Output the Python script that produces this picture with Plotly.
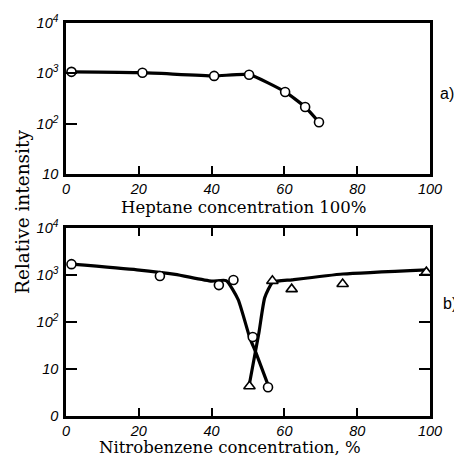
import plotly.graph_objects as go

# Panel a): heptane series (open circles)
hep_x = [1.5, 21, 40.7, 50.3, 60.2, 65.7, 69.5]
hep_y = [1070, 1030, 890, 940, 427, 214, 107]

# Panel b): nitrobenzene, two series
nb_circ_x = [1.5, 25.8, 42, 46, 51.3, 55.5]
nb_circ_y = [1700, 950, 610, 780, 48, 4.1]
nb_tri_x = [50.4, 56.7, 62, 76, 99]
nb_tri_y = [4.3, 750, 500, 645, 1150]

# Smoothed trend curves drawn through the b) series
fit_circ_x = [1.5, 19.5, 30, 40, 44, 47.3, 50.5, 52.2, 55.5]
fit_circ_y = [1700, 1290, 1030, 740, 760, 300, 46, 22, 4.6]
fit_tri_x = [50.3, 53.0, 54.6, 56.8, 62.1, 76.1, 99.2]
fit_tri_y = [4.4, 59, 330, 700, 790, 1050, 1290]

x_ticks = [0, 20, 40, 60, 80, 100]
x_text = ["<i>%d</i>" % v for v in x_ticks]
ya_vals = [10, 100, 1000, 10000]
ya_text = ["<i>10</i>", "<i>10<sup>2</sup></i>", "<i>10<sup>3</sup></i>",
           "<i>10<sup>4</sup></i>"]
yb_vals = [1, 10, 100, 1000, 10000]
yb_text = ["<i>0</i>", "<i>10</i>", "<i>10<sup>2</sup></i>",
           "<i>10<sup>3</sup></i>", "<i>10<sup>4</sup></i>"]

W, H = 454, 456
xdom = [66 / W, 430 / W]
ydom_a = [1 - 174 / H, 1 - 23 / H]
ydom_b = [1 - 416 / H, 1 - 228 / H]

tickfont = dict(family="Liberation Sans", size=14.5, color="black")
serif = dict(family="DejaVu Serif", size=16.5, color="black")
serif_y = dict(family="DejaVu Serif", size=18.5, color="black")
label_font = dict(family="Liberation Sans", size=16, color="black")

fig = go.Figure()

line_style = dict(color="black", width=3.2)
circ_marker = dict(symbol="circle", size=9, color="white",
                   line=dict(color="black", width=1.6))
tri_marker = dict(symbol="triangle-up", size=10, color="white",
                  line=dict(color="black", width=1.6))

# a)
fig.add_trace(go.Scatter(x=hep_x, y=hep_y, mode="lines+markers",
                         line=dict(shape="spline", smoothing=0.5, **line_style),
                         marker=circ_marker, xaxis="x", yaxis="y",
                         showlegend=False))

# b)
fig.add_trace(go.Scatter(x=fit_circ_x, y=fit_circ_y, mode="lines",
                         line=dict(shape="spline", smoothing=0.5, **line_style),
                         xaxis="x2", yaxis="y2", showlegend=False))
fig.add_trace(go.Scatter(x=fit_tri_x, y=fit_tri_y, mode="lines",
                         line=dict(shape="spline", smoothing=0.5, **line_style),
                         xaxis="x2", yaxis="y2", showlegend=False))
fig.add_trace(go.Scatter(x=nb_circ_x, y=nb_circ_y, mode="markers",
                         marker=circ_marker, xaxis="x2", yaxis="y2",
                         showlegend=False))
fig.add_trace(go.Scatter(x=nb_tri_x, y=nb_tri_y, mode="markers",
                         marker=tri_marker, xaxis="x2", yaxis="y2",
                         showlegend=False))

xcommon = dict(range=[0, 100], tickvals=x_ticks, ticktext=x_text, ticks="inside",
               ticklen=8, tickwidth=1.5, tickcolor="black", showline=True,
               linecolor="black", linewidth=2.5, showgrid=False, zeroline=False,
               tickfont=tickfont, automargin=False, ticklabelstandoff=0)
ycommon = dict(type="log", ticks="inside", ticklen=11, tickwidth=1.5,
               tickcolor="black", showline=True, linecolor="black", linewidth=2.5,
               showgrid=False, zeroline=False, tickfont=tickfont, automargin=False,
               ticklabelstandoff=2)

fig.update_layout(
    width=W, height=H,
    margin=dict(l=0, r=0, t=0, b=0),
    paper_bgcolor="white", plot_bgcolor="white",
    xaxis=dict(domain=xdom, anchor="y", mirror=True, **xcommon),
    yaxis=dict(domain=ydom_a, anchor="x", range=[1, 4], tickvals=ya_vals,
               ticktext=ya_text, mirror=True, **ycommon),
    xaxis2=dict(domain=xdom, anchor="y2", mirror="ticks", **xcommon),
    yaxis2=dict(domain=ydom_b, anchor="x2", range=[0, 4], tickvals=yb_vals,
                ticktext=yb_text, mirror="ticks", **ycommon),
    annotations=[
        dict(text="Heptane concentration 100%", x=244 / W, y=1 - 207 / H,
             xref="paper", yref="paper", showarrow=False, font=serif,
             xanchor="center", yanchor="middle"),
        dict(text="Nitrobenzene concentration, %", x=230 / W, y=1 - 447 / H,
             xref="paper", yref="paper", showarrow=False, font=serif,
             xanchor="center", yanchor="middle"),
        dict(text="Relative intensity", x=22 / W, y=1 - 212 / H, xref="paper",
             yref="paper", textangle=-90, showarrow=False, font=serif_y,
             xanchor="center", yanchor="middle"),
        dict(text="a)", x=438 / W, y=1 - 93 / H, xref="paper", yref="paper",
             showarrow=False, xanchor="left", yanchor="middle", font=label_font),
        dict(text="b)", x=441 / W, y=1 - 303 / H, xref="paper", yref="paper",
             showarrow=False, xanchor="left", yanchor="middle", font=label_font),
    ],
)

fig.write_html("out.html")
